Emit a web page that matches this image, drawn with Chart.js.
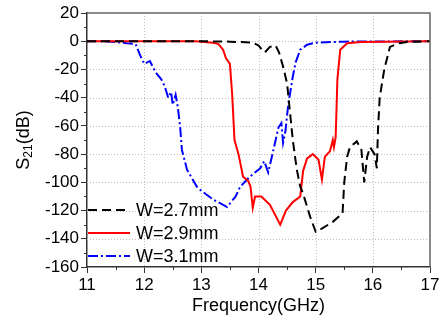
<!DOCTYPE html>
<html><head><meta charset="utf-8">
<script src="https://cdn.jsdelivr.net/npm/chart.js@4.4.0/dist/chart.umd.min.js"></script>
<style>html,body{margin:0;padding:0;background:#fff}#wrap{width:443px;height:324px}</style>
</head><body><div id="wrap"><canvas id="c" width="443" height="324"></canvas></div>
<script>
const seriesNames = ['W=2.7mm', 'W=2.9mm', 'W=3.1mm'];
const xTicks = [11, 12, 13, 14, 15, 16, 17];
const yTicks = [20, 0, -20, -40, -60, -80, -100, -120, -140, -160];

const freq27 = [11, 13.0, 13.5, 13.9, 14.0, 14.06, 14.11, 14.2, 14.3, 14.36, 14.43, 14.5, 14.55, 14.6, 14.67, 14.73, 14.78, 14.9, 15.0, 15.1, 15.3, 15.47, 15.5, 15.55, 15.6, 15.72, 15.8, 15.85, 15.9, 15.95, 16.03, 16.07, 16.09, 16.12, 16.2, 16.3, 16.45, 16.6, 17];
const s27 = [0, 0, -0.3, -1, -3, -6, -8, -4, -3, -8, -18, -30, -50, -70, -91, -103, -108, -124, -135, -133, -128, -122, -100, -82, -75, -71, -77, -100, -82, -75, -80, -90, -63, -40, -20, -4, -1.5, -0.5, 0];

const freq29 = [11, 12.9, 13.2, 13.3, 13.38, 13.43, 13.5, 13.54, 13.58, 13.65, 13.73, 13.82, 13.86, 13.9, 13.94, 14.05, 14.2, 14.38, 14.48, 14.6, 14.73, 14.78, 14.85, 14.95, 15.05, 15.11, 15.16, 15.25, 15.3, 15.32, 15.35, 15.38, 15.43, 15.55, 15.8, 17];
const s29 = [0, 0, -1, -2, -6, -12, -16, -38, -70, -80, -96, -99, -103, -118, -110, -110, -116, -130, -120, -114, -110, -92, -83, -80, -84, -98, -82, -78, -70, -75, -68, -27, -6, -1.4, -0.5, 0];

const freq31 = [11, 11.3, 11.5, 11.7, 11.85, 11.93, 12.0, 12.1, 12.2, 12.3, 12.36, 12.42, 12.47, 12.5, 12.55, 12.59, 12.63, 12.66, 12.75, 12.92, 13.0, 13.2, 13.45, 13.6, 13.68, 13.85, 14.03, 14.1, 14.17, 14.25, 14.35, 14.4, 14.43, 14.47, 14.52, 14.6, 14.65, 14.73, 14.85, 15.0, 15.5, 17];
const s31 = [0, 0, -0.5, -1.5, -2, -10, -16, -14, -22, -27, -32, -40, -36, -45, -38, -47, -61, -77, -91, -103, -106, -112, -117.5, -110, -103, -96, -90, -85, -93, -79, -61, -58, -72, -64, -45, -25, -15, -6, -2.5, -1, -0.3, 0];

const colors = ['#000000', '#ff0000', '#0000ff'];
const dashes = [[9, 5], [], [10, 3, 2, 3]];

function pts(xs, ys) { return xs.map((x, i) => ({x: x, y: ys[i]})); }

const FONT = '"Liberation Sans", Arial, sans-serif';
const AX = '#333';

const decor = {
  id: 'decor',
  beforeDatasetsDraw(chart) {
    const {ctx, chartArea: a, scales: {x, y}} = chart;
    ctx.save();
    ctx.strokeStyle = '#bdbdbd';
    ctx.lineWidth = 1;
    ctx.setLineDash([1, 2]);
    xTicks.slice(1, -1).forEach(v => {
      const px = Math.round(x.getPixelForValue(v)) + 0.5;
      ctx.beginPath(); ctx.moveTo(px, a.top); ctx.lineTo(px, a.bottom); ctx.stroke();
    });
    yTicks.slice(1, -1).forEach(v => {
      const py = Math.round(y.getPixelForValue(v)) + 0.5;
      ctx.beginPath(); ctx.moveTo(a.left, py); ctx.lineTo(a.right, py); ctx.stroke();
    });
    ctx.restore();
  },
  afterDraw(chart) {
    const {ctx, chartArea: a, scales: {x, y}} = chart;
    ctx.save();
    // frame
    ctx.strokeStyle = '#666';
    ctx.lineWidth = 1.5;
    ctx.beginPath();
    ctx.moveTo(a.left, a.top); ctx.lineTo(a.right, a.top); ctx.lineTo(a.right, a.bottom);
    ctx.stroke();
    // minor ticks
    ctx.strokeStyle = AX; ctx.lineWidth = 1;
    for (let v = 11.5; v < 17; v += 1) {
      const px = Math.round(x.getPixelForValue(v)) + 0.5;
      ctx.beginPath(); ctx.moveTo(px, a.bottom); ctx.lineTo(px, a.bottom + 3); ctx.stroke();
    }
    for (let v = 10; v > -160; v -= 20) {
      const py = Math.round(y.getPixelForValue(v)) + 0.5;
      ctx.beginPath(); ctx.moveTo(a.left, py); ctx.lineTo(a.left - 3, py); ctx.stroke();
    }
    // legend
    const rows = [210, 233, 256];
    chart.data.datasets.forEach((ds, i) => {
      ctx.strokeStyle = ds.borderColor;
      ctx.lineWidth = 2;
      ctx.setLineDash(ds.borderDash || []);
      ctx.beginPath(); ctx.moveTo(a.left + 1, rows[i]); ctx.lineTo(a.left + 43, rows[i]); ctx.stroke();
      ctx.setLineDash([]);
      ctx.fillStyle = '#000';
      ctx.font = '18px ' + FONT;
      ctx.textBaseline = 'middle';
      ctx.textAlign = 'left';
      ctx.fillText(ds.label, a.left + 49, rows[i] + 1);
    });
    // x title
    ctx.fillStyle = '#000';
    ctx.font = '18px ' + FONT;
    ctx.textAlign = 'center';
    ctx.textBaseline = 'middle';
    ctx.fillText('Frequency(GHz)', (a.left + a.right) / 2, 306);
    // y title with subscript
    ctx.translate(24, (a.top + a.bottom) / 2);
    ctx.rotate(-Math.PI / 2);
    ctx.textAlign = 'left';
    ctx.textBaseline = 'middle';
    const big = '18px ' + FONT, small = '12px ' + FONT;
    ctx.font = big; const w1 = ctx.measureText('S').width;
    ctx.font = small; const w2 = ctx.measureText('21').width;
    ctx.font = big; const w3 = ctx.measureText('(dB)').width;
    let sx = -(w1 + w2 + w3) / 2;
    ctx.font = big; ctx.fillText('S', sx, 0); sx += w1;
    ctx.font = small; ctx.fillText('21', sx, 5); sx += w2;
    ctx.font = big; ctx.fillText('(dB)', sx, 0);
    ctx.restore();
  }
};

new Chart(document.getElementById('c'), {
  type: 'line',
  data: {
    datasets: [
      {label: seriesNames[0], data: pts(freq27, s27), borderColor: colors[0], borderDash: dashes[0]},
      {label: seriesNames[1], data: pts(freq29, s29), borderColor: colors[1], borderDash: dashes[1]},
      {label: seriesNames[2], data: pts(freq31, s31), borderColor: colors[2], borderDash: dashes[2]}
    ].map(d => Object.assign(d, {borderWidth: 2, pointRadius: 0, tension: 0, fill: false}))
  },
  options: {
    responsive: false,
    animation: false,
    layout: {padding: {top: 13, right: 13, left: 0, bottom: 0}},
    plugins: {legend: {display: false}, tooltip: {enabled: false}},
    scales: {
      x: {
        type: 'linear', min: 11, max: 17,
        afterBuildTicks: s => { s.ticks = xTicks.map(v => ({value: v})); },
        afterFit: s => { s.height = 57; },
        grid: {drawOnChartArea: false, drawTicks: true, tickLength: 6, color: AX},
        border: {display: true, color: AX, width: 1.5},
        ticks: {font: {size: 17, family: FONT}, color: '#000', padding: 2, maxRotation: 0}
      },
      y: {
        type: 'linear', min: -160, max: 20,
        afterBuildTicks: s => { s.ticks = yTicks.map(v => ({value: v})); },
        afterFit: s => { s.width = 87; },
        grid: {drawOnChartArea: false, drawTicks: true, tickLength: 6, color: AX},
        border: {display: true, color: AX, width: 1.5},
        ticks: {font: {size: 17, family: FONT}, color: '#000', padding: 2}
      }
    }
  },
  plugins: [decor]
});
</script></body></html>
